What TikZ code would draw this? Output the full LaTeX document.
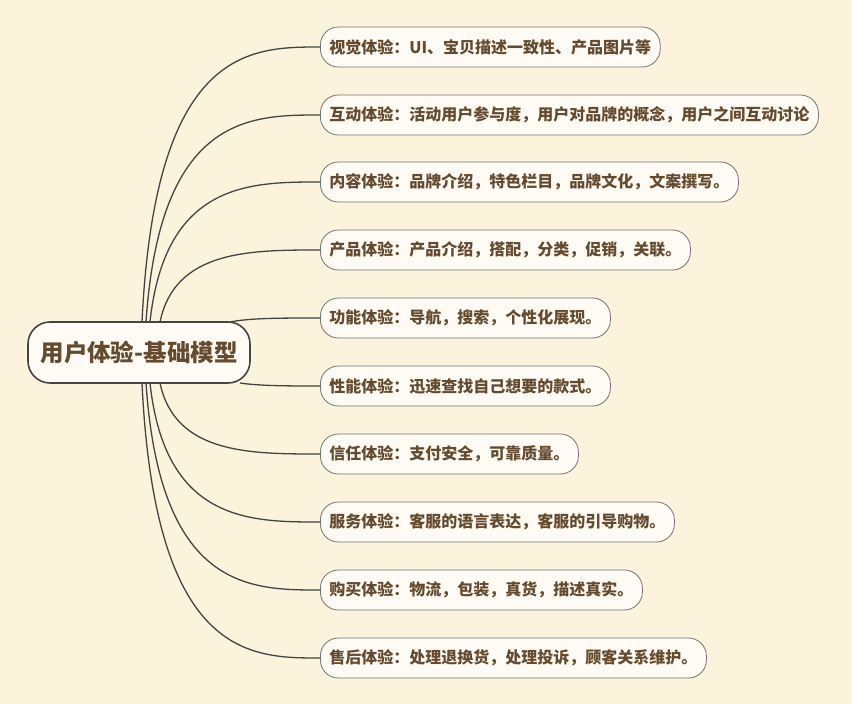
\documentclass[tikz,border=0pt]{standalone}
\usepackage{fontspec}
\newfontfamily\cjk{Noto Sans CJK SC}
\definecolor{bg}{HTML}{FBF3DC}
\definecolor{txt}{HTML}{654A2E}
\definecolor{ln}{HTML}{444444}
\tikzset{
 leaf/.style={draw=ln!75, line width=0.8pt, fill=white!70!bg, rounded corners=18pt, minimum height=40pt, inner xsep=9pt, anchor=west, text=txt, font=\cjk\bfseries\fontsize{16}{19}\selectfont},
 rootbox/.style={draw=ln, line width=1.6pt, fill=white!70!bg, rounded corners=22pt, minimum width=222pt, minimum height=61pt, text=txt, font=\cjk\bfseries\fontsize{23.5}{27}\selectfont},
 link/.style={draw=ln, line width=1.3pt}
}
\begin{document}
\begin{tikzpicture}[x=1pt,y=-1pt]
\fill[bg] (0,0) rectangle (852,704);
\useasboundingbox (0,0) rectangle (852,704);
\node[rootbox] (r) at (139,352.5) {用户体验-基础模型};
\node[leaf] (a) at (320,47) {视觉体验：UI、宝贝描述一致性、产品图片等};
\node[leaf] (b) at (320,115) {互动体验：活动用户参与度，用户对品牌的概念，用户之间互动讨论};
\node[leaf] (c) at (320,182) {内容体验：品牌介绍，特色栏目，品牌文化，文案撰写。};
\node[leaf] (d) at (320,250) {产品体验：产品介绍，搭配，分类，促销，关联。};
\node[leaf] (e) at (320,318) {功能体验：导航，搜索，个性化展现。};
\node[leaf] (f) at (320,386) {性能体验：迅速查找自己想要的款式。};
\node[leaf] (g) at (320,454) {信任体验：支付安全，可靠质量。};
\node[leaf] (h) at (320,522) {服务体验：客服的语言表达，客服的引导购物。};
\node[leaf] (i) at (320,590) {购买体验：物流，包装，真货，描述真实。};
\node[leaf] (j) at (320,658) {售后体验：处理退换货，处理投诉，顾客关系维护。};
\coordinate (sa) at (142,322);
\coordinate (sb) at (146,322);
\coordinate (sc) at (150,322);
\coordinate (sd) at (160,322);
\coordinate (se) at (230,322);
\coordinate (sf) at (240,383);
\coordinate (sg) at (160,383);
\coordinate (sh) at (150,383);
\coordinate (si) at (146,383);
\coordinate (sj) at (142,383);
\draw[link] (sa) .. controls (155,47) and (250,47) .. (a.west);
\draw[link] (sb) .. controls (160,115) and (250,115) .. (b.west);
\draw[link] (sc) .. controls (165,182) and (250,182) .. (c.west);
\draw[link] (sd) .. controls (175,250) and (250,250) .. (d.west);
\draw[link] (se) .. controls (250,318) and (280,318) .. (e.west);
\draw[link] (sf) .. controls (260,386) and (290,386) .. (f.west);
\draw[link] (sg) .. controls (175,454) and (250,454) .. (g.west);
\draw[link] (sh) .. controls (165,522) and (250,522) .. (h.west);
\draw[link] (si) .. controls (160,590) and (250,590) .. (i.west);
\draw[link] (sj) .. controls (155,658) and (250,658) .. (j.west);
\end{tikzpicture}
\end{document}
